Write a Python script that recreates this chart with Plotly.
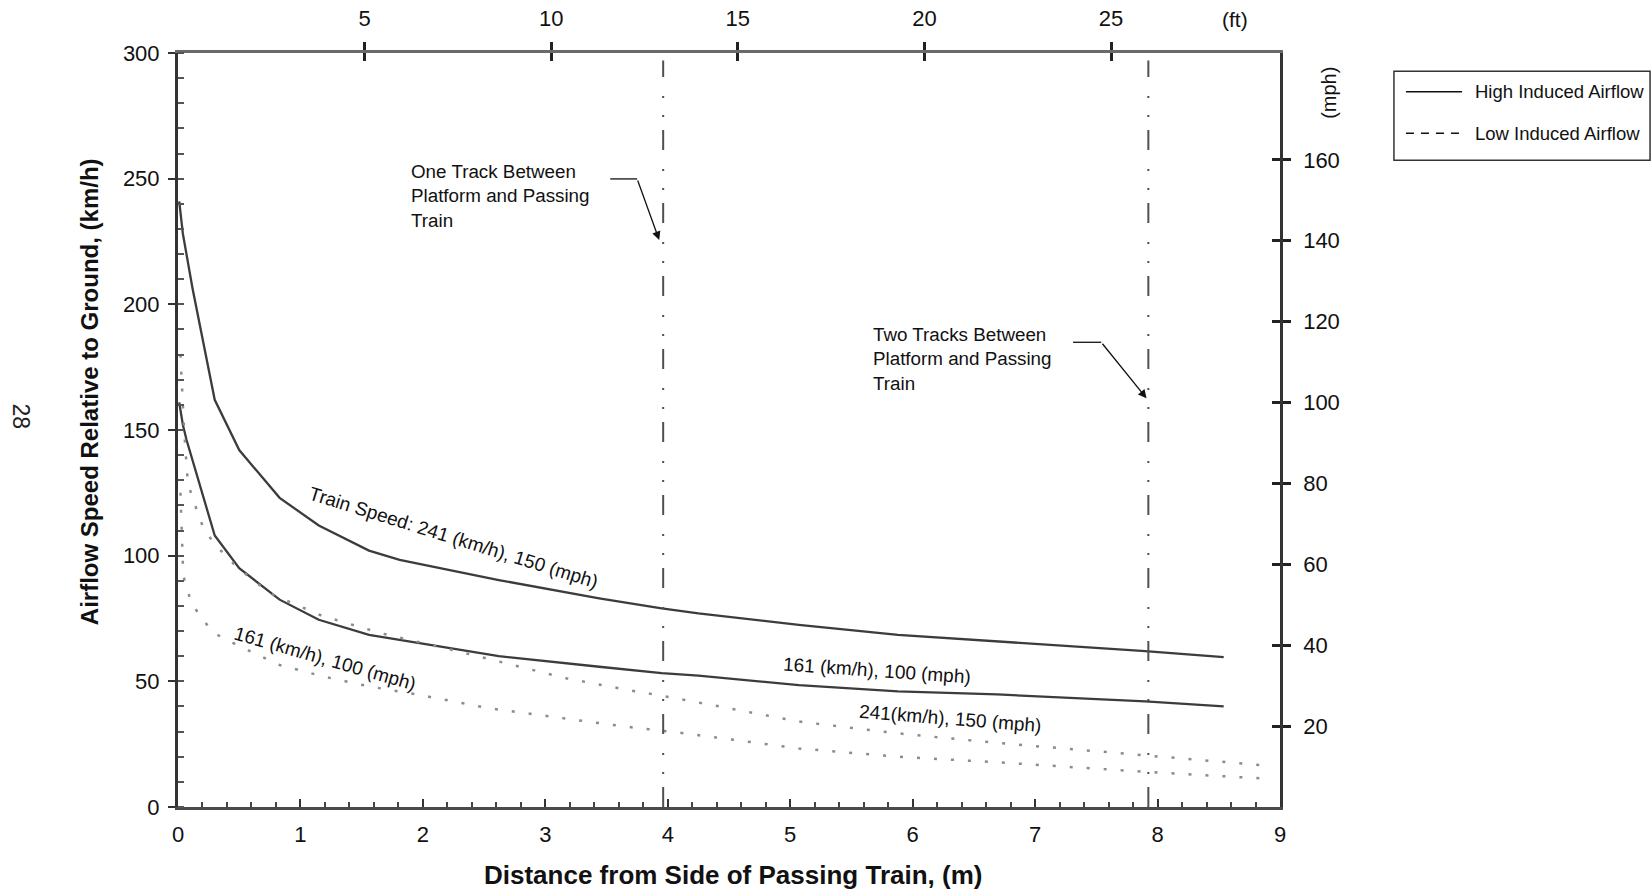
import plotly.graph_objects as go

# ---- data -------------------------------------------------------------
# Distance from side of passing train (m) and airflow speed (km/h)
x_high_241 = [0.01, 0.04, 0.12, 0.30, 0.50, 0.83, 1.15, 1.56, 1.81, 2.62, 3.44, 3.95, 4.25, 5.07, 5.88, 6.69, 7.90, 8.54]
y_high_241 = [241, 228, 206, 162, 142, 123, 112, 102, 98.3, 90.3, 83, 79, 77, 72.5, 68.5, 66, 62, 59.6]

x_high_161 = [0.01, 0.04, 0.07, 0.30, 0.50, 0.83, 1.15, 1.56, 1.81, 2.62, 3.44, 3.95, 4.25, 5.07, 5.88, 6.69, 7.90, 8.54]
y_high_161 = [161, 152, 146, 108, 95, 82.5, 74.5, 68.5, 66.5, 60, 55.8, 53.3, 52.3, 48.5, 46, 44.8, 42, 40]

x_low_241 = [0.02, 0.05, 0.08, 0.125, 0.2, 0.29, 0.48, 0.75, 1.18, 1.67, 2.24, 2.73, 3.17, 3.65, 4.14, 5.07, 5.88, 6.69, 7.90, 8.84]
y_low_241 = [180, 150, 129, 122, 112, 105, 95.5, 85, 76, 69, 62.5, 56.5, 51.2, 46.8, 42.6, 34, 29.3, 25.5, 20.7, 16.7]

x_low_161 = [0.02, 0.043, 0.11, 0.206, 0.29, 0.48, 0.83, 1.18, 1.56, 1.97, 2.54, 3.17, 3.65, 4.14, 5.07, 5.88, 6.69, 7.90, 8.84]
y_low_161 = [125, 92, 81, 74.4, 69.3, 64.5, 56.5, 52, 48, 44.6, 39.3, 35, 32, 29.3, 23.3, 20, 17.8, 14, 11.4]

# axis ticks
m_ticks = list(range(0, 10))
kmh_ticks = [0, 50, 100, 150, 200, 250, 300]
ft_ticks = [5, 10, 15, 20, 25]
mph_ticks = [20, 40, 60, 80, 100, 120, 140, 160]

# platform edge positions for one / two tracks between platform and train (ft)
track_offsets_ft = [13, 26]

M_PER_FT = 0.3048
KMH_PER_MPH = 1.609344
X_MAX_M = 9
Y_MAX_KMH = 300

FONT = "Liberation Sans, Arial, sans-serif"
SOLID = "#3c3c3c"
DOTTED = "#8c8c8c"

fig = go.Figure()

solid_style = dict(color=SOLID, width=2.3)
dot_style = dict(color=DOTTED, width=2.5, dash="3px,14px")

fig.add_trace(go.Scatter(x=x_high_241, y=y_high_241, mode="lines", line=solid_style,
                         name="High 241", showlegend=False))
fig.add_trace(go.Scatter(x=x_high_161, y=y_high_161, mode="lines", line=solid_style,
                         name="High 161", showlegend=False))
fig.add_trace(go.Scatter(x=x_low_241, y=y_low_241, mode="lines", line=dot_style,
                         name="Low 241", showlegend=False))
fig.add_trace(go.Scatter(x=x_low_161, y=y_low_161, mode="lines", line=dot_style,
                         name="Low 161", showlegend=False))

# empty traces so the secondary (ft / mph) axes are drawn
for xa, ya in [("x2", "y"), ("x3", "y"), ("x", "y2"), ("x", "y3")]:
    fig.add_trace(go.Scatter(x=[None], y=[None], xaxis=xa, yaxis=ya,
                             showlegend=False, hoverinfo="skip"))

# vertical dash-dot lines at platform edges
for ft in track_offsets_ft:
    xm = ft * M_PER_FT
    fig.add_shape(type="line", xref="x", yref="y", x0=xm, x1=xm, y0=0, y1=297,
                  line=dict(color="#505050", width=2,
                            dash="20px,13px,2px,17px,2px,19px"))

tick_font = dict(family=FONT, size=22, color="#111")

fig.update_layout(
    width=1652, height=893,
    margin=dict(l=178, r=372, t=53, b=86, autoexpand=False),
    paper_bgcolor="white", plot_bgcolor="white",
    font=dict(family=FONT, color="#111"),
    xaxis=dict(
        range=[0, X_MAX_M], tickvals=m_ticks, ticks="inside", ticklen=8, tickwidth=2,
        tickcolor="#333", showline=True, linecolor="#4a4a4a", linewidth=3,
        showgrid=False, zeroline=False, tickfont=tick_font, ticklabelstandoff=6,
        automargin=False,
        minor=dict(dtick=0.2, ticks="inside", ticklen=5, tickwidth=1.5, tickcolor="#444"),
    ),
    yaxis=dict(
        range=[0, Y_MAX_KMH], tickvals=kmh_ticks, ticks="outside", ticklen=7, tickwidth=2,
        tickcolor="#333", showline=True, linecolor="#333", linewidth=3,
        showgrid=False, zeroline=False, tickfont=tick_font, ticklabelstandoff=4,
        automargin=False,
        minor=dict(dtick=10, ticks="inside", ticklen=6, tickwidth=1.5, tickcolor="#555"),
    ),
    xaxis2=dict(
        overlaying="x", side="top", anchor="y", range=[0, X_MAX_M / M_PER_FT],
        tickvals=ft_ticks, ticks="outside", ticklen=8, tickwidth=3, tickcolor="#222",
        showline=True, linecolor="#6a6a6a", linewidth=2.5, showgrid=False,
        zeroline=False, tickfont=tick_font, ticklabelstandoff=7, automargin=False,
    ),
    xaxis3=dict(
        overlaying="x", side="top", anchor="y", range=[0, X_MAX_M / M_PER_FT],
        tickvals=ft_ticks, ticks="inside", ticklen=8, tickwidth=3, tickcolor="#222",
        showline=False, showgrid=False, zeroline=False, showticklabels=False,
        automargin=False,
    ),
    yaxis2=dict(
        overlaying="y", side="right", anchor="x", range=[0, Y_MAX_KMH / KMH_PER_MPH],
        tickvals=mph_ticks, ticks="outside", ticklen=8, tickwidth=3, tickcolor="#222",
        showline=True, linecolor="#333", linewidth=2.5, showgrid=False,
        zeroline=False, tickfont=tick_font, ticklabelstandoff=8, automargin=False,
    ),
    yaxis3=dict(
        overlaying="y", side="right", anchor="x", range=[0, Y_MAX_KMH / KMH_PER_MPH],
        tickvals=mph_ticks, ticks="inside", ticklen=8, tickwidth=3, tickcolor="#222",
        showline=False, showgrid=False, zeroline=False, showticklabels=False,
        automargin=False,
    ),
)

ann = []
C = dict(xanchor="center", yanchor="middle", showarrow=False)
# axis titles and unit labels
ann.append(dict(xref="paper", yref="paper", x=-0.0802, y=0.551, textangle=-90,
                text="Airflow Speed Relative to Ground, (km/h)",
                font=dict(family=FONT, size=24, weight="bold", color="#111"), **C))
ann.append(dict(xref="paper", yref="paper", x=0.5034, y=-0.0908,
                text="Distance from Side of Passing Train, (m)",
                font=dict(family=FONT, size=26, weight="bold", color="#111"), **C))
ann.append(dict(xref="paper", yref="paper", x=0.959, y=1.0447, text="(ft)",
                font=dict(family=FONT, size=21, color="#111"), **C))
ann.append(dict(xref="paper", yref="paper", x=1.045, y=0.9466, text="(mph)",
                textangle=-90, font=dict(family=FONT, size=20, color="#111"), **C))
ann.append(dict(xref="paper", yref="paper", x=-0.1425, y=0.518, text="28",
                textangle=90, font=dict(family=FONT, size=23, color="#222"), **C))

# curve labels
lab_font = dict(family=FONT, size=19, color="#111")
ann.append(dict(x=2.25, y=107.4, text="Train Speed: 241 (km/h), 150 (mph)", textangle=17.3,
                font=lab_font, **C))
ann.append(dict(x=1.20, y=58.9, text="161 (km/h), 100 (mph)", textangle=16,
                font=lab_font, **C))
ann.append(dict(x=5.71, y=54.5, text="161 (km/h), 100 (mph)", textangle=4,
                font=lab_font, **C))
ann.append(dict(x=6.31, y=35.4, text="241(km/h), 150 (mph)", textangle=4.5,
                font=lab_font, **C))

# callouts for the platform edge lines
note_font = dict(family=FONT, size=18.8, color="#111")
ann.append(dict(x=1.887, y=243.1, xanchor="left", yanchor="middle", align="left",
                text="One Track Between<br>Platform and Passing<br>Train",
                showarrow=False, font=note_font))
ann.append(dict(x=5.66, y=178.2, xanchor="left", yanchor="middle", align="left",
                text="Two Tracks Between<br>Platform and Passing<br>Train",
                showarrow=False, font=note_font))
ann.append(dict(x=3.93, y=225.6, ax=3.75, ay=249.9, axref="x", ayref="y", text="",
                showarrow=True, arrowhead=2, arrowsize=1.3, arrowwidth=1.3, arrowcolor="#111"))
ann.append(dict(x=7.91, y=162.6, ax=7.54, ay=184.9, axref="x", ayref="y", text="",
                showarrow=True, arrowhead=2, arrowsize=1.3, arrowwidth=1.3, arrowcolor="#111"))
fig.add_shape(type="line", xref="x", yref="y", x0=3.53, x1=3.75, y0=249.9, y1=249.9,
              line=dict(color="#111", width=1.3))
fig.add_shape(type="line", xref="x", yref="y", x0=7.31, x1=7.54, y0=184.9, y1=184.9,
              line=dict(color="#111", width=1.3))

# legend box
fig.add_shape(type="rect", xref="paper", yref="paper", x0=1.1034, x1=1.3358,
              y0=0.8578, y1=0.9757, line=dict(color="#333", width=1.5), fillcolor="white")
fig.add_shape(type="line", xref="paper", yref="paper", x0=1.1143, x1=1.1652,
              y0=0.9487, y1=0.9487, line=dict(color="#111", width=1.5))
fig.add_shape(type="line", xref="paper", yref="paper", x0=1.1143, x1=1.1652,
              y0=0.8935, y1=0.8935, line=dict(color="#111", width=1.5, dash="8px,7px"))
leg_font = dict(family=FONT, size=18.5, color="#111")
ann.append(dict(xref="paper", yref="paper", x=1.1751, y=0.9487, xanchor="left",
                yanchor="middle", text="High Induced Airflow", showarrow=False, font=leg_font))
ann.append(dict(xref="paper", yref="paper", x=1.1751, y=0.8935, xanchor="left",
                yanchor="middle", text="Low Induced Airflow", showarrow=False, font=leg_font))

fig.update_layout(annotations=ann)

fig.write_html("out.html")
